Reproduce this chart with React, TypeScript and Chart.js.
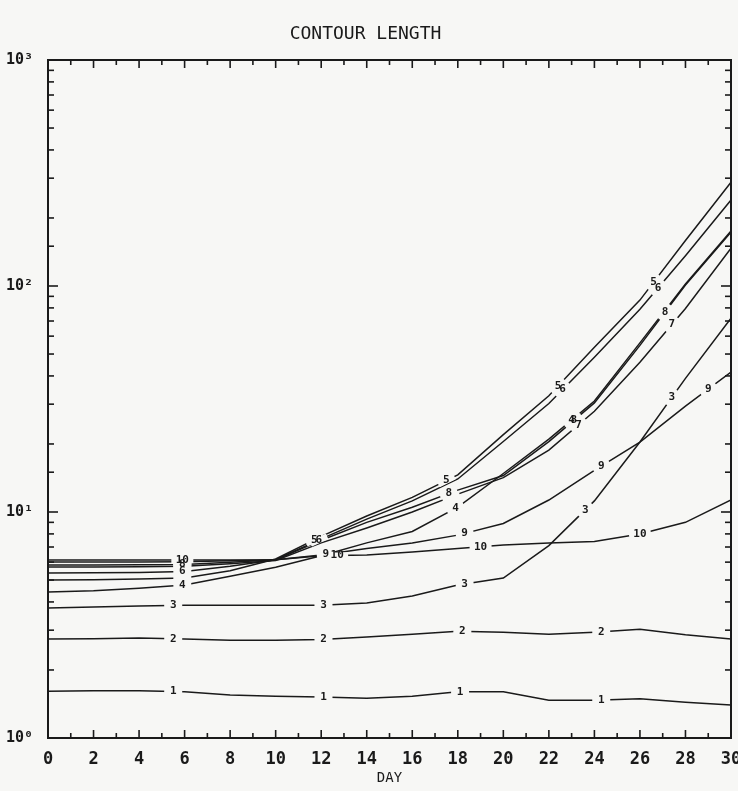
import React, { useEffect, useRef } from 'react';
import { Chart, registerables } from 'chart.js';

Chart.register(...registerables);

const BG = '#f7f7f5';
const INK = '#1a1a1a';
const MONO = '"DejaVu Sans Mono", monospace';

const titleText = 'CONTOUR LENGTH';
const xTitleText = 'DAY';

const days = [0, 2, 4, 6, 8, 10, 12, 14, 16, 18, 20, 22, 24, 26, 28, 30];

const contour1 = [1.61, 1.62, 1.62, 1.60, 1.55, 1.53, 1.52, 1.50, 1.53, 1.60, 1.60, 1.47, 1.47, 1.49, 1.44, 1.40];
const contour2 = [2.74, 2.75, 2.77, 2.74, 2.71, 2.71, 2.73, 2.80, 2.88, 2.97, 2.94, 2.88, 2.94, 3.03, 2.86, 2.74];
const contour3 = [3.76, 3.80, 3.84, 3.87, 3.87, 3.87, 3.87, 3.96, 4.25, 4.75, 5.10, 7.10, 11.2, 20.4, 39.0, 72.0];
const contour4 = [4.43, 4.48, 4.60, 4.75, 5.20, 5.70, 6.40, 7.30, 8.20, 10.5, 14.8, 21.0, 31.0, 56.0, 102, 175];
const contour5 = [5.00, 5.02, 5.05, 5.10, 5.50, 6.20, 7.80, 9.60, 11.6, 14.6, 22.0, 32.7, 53.6, 86.6, 159, 288];
const contour6 = [5.37, 5.38, 5.40, 5.45, 5.75, 6.15, 7.60, 9.30, 11.2, 14.0, 20.5, 30.2, 48.4, 78.9, 136, 240];
const contour7 = [5.71, 5.71, 5.72, 5.75, 5.90, 6.10, 7.30, 8.50, 10.0, 12.0, 14.2, 18.8, 27.9, 46.0, 79.5, 147];
const contour8 = [5.83, 5.83, 5.84, 5.85, 6.00, 6.15, 7.50, 9.00, 10.5, 12.5, 14.5, 20.5, 30.4, 54.6, 101, 173];
const contour9 = [6.01, 6.01, 6.01, 6.02, 6.08, 6.15, 6.45, 6.90, 7.30, 7.90, 8.90, 11.3, 15.3, 20.4, 29.4, 41.6];
const contour10 = [6.13, 6.13, 6.13, 6.13, 6.13, 6.15, 6.40, 6.45, 6.65, 6.90, 7.15, 7.30, 7.40, 8.00, 9.00, 11.3];

const contourNames = ['1', '2', '3', '4', '5', '6', '7', '8', '9', '10'];

// days at which each contour carries its inline number
const labelDays1 = [5.5, 12.1, 18.1, 24.3];
const labelDays2 = [5.5, 12.1, 18.2, 24.3];
const labelDays3 = [5.5, 12.1, 18.3, 23.6, 27.4];
const labelDays4 = [5.9, 17.9, 23.0];
const labelDays5 = [11.7, 17.5, 22.4, 26.6];
const labelDays6 = [5.9, 11.9, 22.6, 26.8];
const labelDays7 = [23.3, 27.4];
const labelDays8 = [5.9, 17.6, 23.1, 27.1];
const labelDays9 = [12.2, 18.3, 24.3, 29.0];
const labelDays10 = [5.9, 12.7, 19.0, 26.0];

// days where a contour is broken without a visible number
const gapDays5 = [5.9];
const gapDays7 = [5.9, 17.7];
const gapDays9 = [5.9];

const yDecadeLabels = ['10⁰', '10¹', '10²', '10³'];

export default function App() {
  const ref = useRef<HTMLCanvasElement | null>(null);

  useEffect(() => {
    document.body.style.margin = '0';
    document.body.style.overflow = 'hidden';
    const canvas = ref.current;
    if (!canvas) return;

    const series = [contour1, contour2, contour3, contour4, contour5, contour6, contour7, contour8, contour9, contour10];
    const labelDays = [labelDays1, labelDays2, labelDays3, labelDays4, labelDays5, labelDays6, labelDays7, labelDays8, labelDays9, labelDays10];
    const gapDays: number[][] = [[], [], [], [], gapDays5, [], gapDays7, [], gapDays9, []];

    const bgPlugin = {
      id: 'paper',
      beforeDraw(chart: any) {
        const ctx = chart.ctx;
        ctx.save();
        ctx.fillStyle = BG;
        ctx.fillRect(0, 0, chart.width, chart.height);
        ctx.restore();
      },
    };

    const labelPlugin = {
      id: 'contourLabels',
      afterDatasetsDraw(chart: any) {
        const ctx = chart.ctx;
        const xs = chart.scales.x;
        const ys = chart.scales.y;
        const place = (vals: number[], d: number) => {
          let k = 0;
          while (k < days.length - 2 && d > days[k + 1]) k++;
          const x0 = xs.getPixelForValue(days[k]);
          const y0 = ys.getPixelForValue(vals[k]);
          const x1 = xs.getPixelForValue(days[k + 1]);
          const y1 = ys.getPixelForValue(vals[k + 1]);
          const t = (d - days[k]) / (days[k + 1] - days[k]);
          const len = Math.hypot(x1 - x0, y1 - y0) || 1;
          return { px: x0 + t * (x1 - x0), py: y0 + t * (y1 - y0), ux: (x1 - x0) / len, uy: (y1 - y0) / len };
        };
        ctx.save();
        ctx.strokeStyle = BG;
        ctx.lineWidth = 6;
        ctx.lineCap = 'butt';
        series.forEach((vals, i) => {
          const half = contourNames[i].length > 1 ? 11 : 9;
          [...labelDays[i], ...gapDays[i]].forEach((d) => {
            const p = place(vals, d);
            ctx.beginPath();
            ctx.moveTo(p.px - p.ux * half, p.py - p.uy * half);
            ctx.lineTo(p.px + p.ux * half, p.py + p.uy * half);
            ctx.stroke();
          });
        });
        ctx.fillStyle = INK;
        ctx.font = `bold 11px ${MONO}`;
        ctx.textAlign = 'center';
        ctx.textBaseline = 'middle';
        series.forEach((vals, i) => {
          labelDays[i].forEach((d) => {
            const p = place(vals, d);
            ctx.fillText(contourNames[i], p.px, p.py);
          });
        });
        ctx.restore();
      },
    };

    const framePlugin = {
      id: 'frameTicks',
      afterDraw(chart: any) {
        const ctx = chart.ctx;
        const { left, right, top, bottom } = chart.chartArea;
        const xs = chart.scales.x;
        const ys = chart.scales.y;
        const seg = (a: number, b: number, c: number, d: number) => {
          ctx.beginPath();
          ctx.moveTo(a, b);
          ctx.lineTo(c, d);
          ctx.stroke();
        };
        ctx.save();
        ctx.strokeStyle = INK;
        ctx.lineWidth = 1.6;
        xs.ticks.forEach((t: any) => {
          const x = xs.getPixelForValue(t.value);
          const L = t.value % 2 === 0 ? 8 : 5;
          seg(x, bottom, x, bottom - L);
          seg(x, top, x, top + L);
        });
        ys.ticks.forEach((t: any) => {
          const y = ys.getPixelForValue(t.value);
          const lg = Math.log10(t.value);
          const major = Math.abs(lg - Math.round(lg)) < 1e-9;
          const L = major ? 10 : 6;
          seg(left, y, left + L, y);
          seg(right, y, right - L, y);
        });
        ctx.lineWidth = 2;
        ctx.strokeRect(left, top, right - left, bottom - top);
        ctx.restore();
      },
    };

    const datasets = series.map((vals, i) => ({
      label: contourNames[i],
      data: vals.map((v, j) => ({ x: days[j], y: v })),
      borderColor: INK,
      backgroundColor: INK,
      borderWidth: 1.5,
      pointRadius: 0,
      tension: 0,
      fill: false,
    }));

    const chart = new Chart(canvas, {
      type: 'line',
      data: { datasets },
      plugins: [bgPlugin, labelPlugin, framePlugin],
      options: {
        animation: false,
        responsive: false,
        devicePixelRatio: 1,
        layout: { padding: { left: 0, right: 7, top: 0, bottom: 0 } },
        plugins: {
          legend: { display: false },
          tooltip: { enabled: false },
          title: {
            display: true,
            text: titleText,
            color: INK,
            font: { family: MONO, size: 18, weight: 'normal' },
            padding: { top: 24, bottom: 14.4 },
          },
        },
        scales: {
          x: {
            type: 'linear',
            min: 0,
            max: 30,
            grid: { display: false },
            border: { display: false },
            ticks: {
              stepSize: 1,
              autoSkip: false,
              maxRotation: 0,
              padding: 3,
              color: INK,
              font: { family: MONO, size: 17, weight: 'bold' },
              callback: (v: any) => (Number(v) % 2 === 0 ? String(v) : ''),
            },
            title: {
              display: true,
              text: xTitleText,
              color: INK,
              font: { family: MONO, size: 14, weight: 'normal' },
              padding: { top: 2, bottom: 4 },
            },
            afterFit: (scale: any) => {
              scale.height = 53;
              scale.paddingLeft = 0;
              scale.paddingRight = 0;
            },
          },
          y: {
            type: 'logarithmic',
            min: 1,
            max: 1000,
            grid: { display: false },
            border: { display: false },
            ticks: {
              autoSkip: false,
              padding: 7,
              color: INK,
              font: { family: MONO, size: 15, weight: 'bold' },
              callback: (v: any) => {
                const lg = Math.log10(Number(v));
                const r = Math.round(lg);
                return Math.abs(lg - r) < 1e-9 ? yDecadeLabels[r] ?? '' : '';
              },
            },
            afterFit: (scale: any) => {
              scale.width = 48;
              scale.paddingTop = 0;
              scale.paddingBottom = 0;
            },
          },
        },
      } as any,
    });

    return () => chart.destroy();
  }, []);

  return (
    <div style={{ width: 738, height: 791 }}>
      <canvas ref={ref} width={738} height={791} style={{ display: 'block' }} />
    </div>
  );
}
